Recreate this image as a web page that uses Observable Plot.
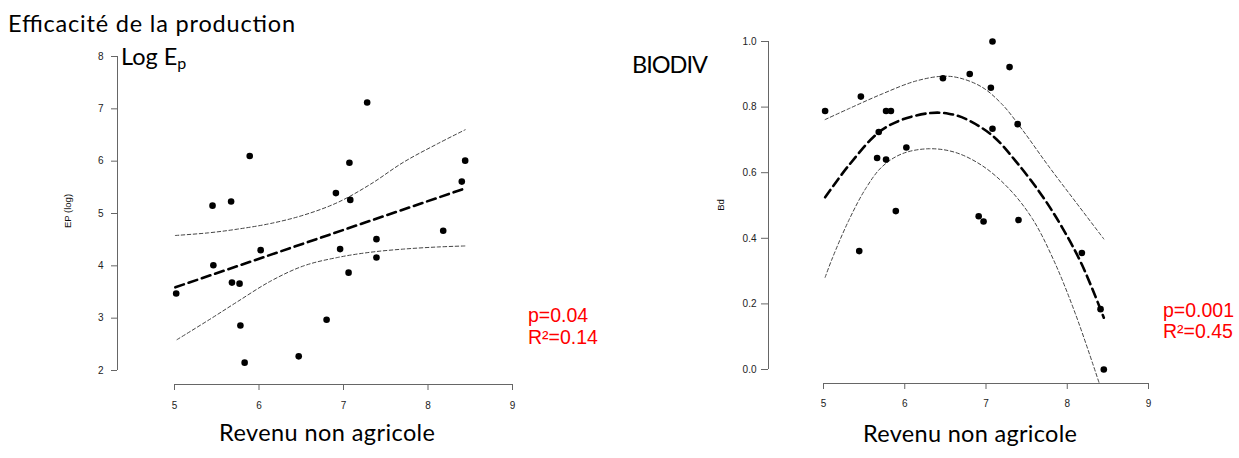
<!DOCTYPE html>
<html>
<head>
<meta charset="utf-8">
<script src="https://cdn.jsdelivr.net/npm/d3@7"></script>
<script src="https://cdn.jsdelivr.net/npm/@observablehq/plot@0.6"></script>
<style>
  body { margin: 0; background: #fff; }
  #wrap { position: relative; width: 1239px; height: 458px; overflow: hidden; background: #fff; }
  #wrap svg { position: absolute; left: 0; top: 0; }
</style>
</head>
<body>
<div id="wrap"></div>
<script>
// ---------- Left panel: Efficacité de la production (Log Ep) ----------
const epRevenu = [5.02, 5.45, 5.46, 5.67, 5.68, 5.77, 5.78, 5.83, 5.89, 6.02, 6.47, 6.80, 6.91, 6.96, 7.06, 7.07, 7.08, 7.28, 7.39, 7.39, 8.18, 8.40, 8.44];
const epLog    = [3.47, 5.15, 4.01, 5.23, 3.68, 3.66, 2.86, 2.15, 6.10, 4.30, 2.27, 2.97, 5.39, 4.32, 3.87, 5.97, 5.26, 7.12, 4.51, 4.16, 4.67, 5.61, 6.01];
const epFitX   = [5.01, 8.44];
const epFitY   = [3.59, 5.48];
const epUpX    = [5.01, 5.40, 5.74, 6.14, 6.53, 6.93, 7.32, 7.71, 8.11, 8.44];
const epUpY    = [4.58, 4.63, 4.70, 4.81, 4.97, 5.21, 5.56, 5.98, 6.33, 6.60];
const epLoX    = [5.03, 5.43, 5.74, 6.14, 6.53, 6.93, 7.32, 7.71, 8.11, 8.44];
const epLoY    = [2.59, 2.99, 3.31, 3.71, 4.00, 4.16, 4.26, 4.32, 4.36, 4.38];
const epXTicks = [5, 6, 7, 8, 9];
const epYTicks = [2, 3, 4, 5, 6, 7, 8];

// ---------- Right panel: BIODIV (Bd) ----------
const bdRevenu = [5.02, 5.46, 5.44, 5.68, 5.66, 5.77, 5.77, 5.83, 5.89, 6.02, 6.47, 6.80, 6.91, 6.97, 7.06, 7.08, 7.08, 7.29, 7.39, 7.40, 8.18, 8.41, 8.45];
const bdValue  = [0.788, 0.832, 0.361, 0.724, 0.645, 0.640, 0.788, 0.788, 0.483, 0.677, 0.888, 0.901, 0.467, 0.451, 0.859, 0.734, 1.000, 0.922, 0.748, 0.456, 0.355, 0.184, 0.000];
const bdFitX   = [5.02, 5.31, 5.68, 5.97, 6.32, 6.54, 6.75, 7.08, 7.36, 7.69, 7.94, 8.18, 8.45];
const bdFitY   = [0.525, 0.622, 0.723, 0.762, 0.782, 0.780, 0.764, 0.713, 0.637, 0.530, 0.432, 0.320, 0.158];
const bdUpX    = [5.02, 5.31, 5.72, 6.13, 6.46, 6.67, 6.95, 7.20, 7.45, 7.77, 8.10, 8.45];
const bdUpY    = [0.762, 0.795, 0.840, 0.879, 0.894, 0.889, 0.861, 0.808, 0.730, 0.620, 0.512, 0.398];
const bdLoX    = [5.02, 5.11, 5.31, 5.52, 5.72, 5.97, 6.30, 6.62, 6.95, 7.28, 7.57, 7.83, 8.10, 8.39];
const bdLoY    = [0.281, 0.340, 0.454, 0.552, 0.618, 0.658, 0.673, 0.662, 0.622, 0.552, 0.460, 0.335, 0.170, -0.039];
const bdXTicks = [5, 6, 7, 8, 9];
const bdYTicks = [0, 0.2, 0.4, 0.6, 0.8, 1.0];

const pts = (xs, ys) => xs.map((x, i) => ({x, y: ys[i]}));

const W = 1239, H = 458;
const axisStyle = {fontFamily: "'Liberation Sans', Arial, sans-serif", fontSize: "10px", color: "#222", background: "transparent", overflow: "visible"};
const thin = {x: "x", y: "y", stroke: "#444", strokeWidth: 1, strokeDasharray: "3.5,2.5", curve: "catmull-rom"};
const thick = {x: "x", y: "y", stroke: "#000", strokeWidth: 2.6, strokeDasharray: "9,5", curve: "catmull-rom"};

const left = Plot.plot({
  width: W, height: H,
  marginLeft: 117, marginBottom: H - 384, marginTop: 0, marginRight: 0,
  x: {domain: [5, 9], range: [174, 512]},
  y: {domain: [2, 8], range: [370, 56]},
  style: axisStyle,
  marks: [
    Plot.ruleY([epYTicks[0]], {x1: epXTicks[0], x2: epXTicks[epXTicks.length - 1], dy: 14, stroke: "#666"}),
    Plot.ruleX([epXTicks[0]], {y1: epYTicks[0], y2: epYTicks[epYTicks.length - 1], dx: -57, stroke: "#666"}),
    Plot.axisX(epXTicks, {tickSize: 6, tickPadding: 11, stroke: "#666", fill: "#222", label: null, tickFormat: "d"}),
    Plot.axisY(epYTicks, {tickSize: 6, tickPadding: 8, stroke: "#666", fill: "#222", label: null, tickFormat: "d"}),
    Plot.line(pts(epUpX, epUpY), thin),
    Plot.line(pts(epLoX, epLoY), thin),
    Plot.line(pts(epFitX, epFitY), {...thick, curve: "linear"}),
    Plot.dot(pts(epRevenu, epLog), {x: "x", y: "y", r: 3.3, fill: "#000", stroke: "none"})
  ]
});

const right = Plot.plot({
  width: W, height: H,
  marginLeft: 768, marginBottom: H - 383, marginTop: 0, marginRight: 0,
  x: {domain: [5, 9], range: [823, 1148]},
  y: {domain: [0, 1], range: [369, 41]},
  style: axisStyle,
  marks: [
    Plot.ruleY([bdYTicks[0]], {x1: bdXTicks[0], x2: bdXTicks[bdXTicks.length - 1], dy: 14, stroke: "#666"}),
    Plot.ruleX([bdXTicks[0]], {y1: bdYTicks[0], y2: bdYTicks[bdYTicks.length - 1], dx: -55, stroke: "#666"}),
    Plot.axisX(bdXTicks, {tickSize: 6, tickPadding: 10, stroke: "#666", fill: "#222", label: null, tickFormat: "d"}),
    Plot.axisY(bdYTicks, {tickSize: 7, tickPadding: 5, stroke: "#666", fill: "#222", label: null, tickFormat: ".1f"}),
    Plot.line(pts(bdUpX, bdUpY), thin),
    Plot.line(pts(bdLoX, bdLoY), thin),
    Plot.line(pts(bdFitX, bdFitY), thick),
    Plot.dot(pts(bdRevenu, bdValue), {x: "x", y: "y", r: 3.3, fill: "#000", stroke: "none"})
  ]
});

const wrap = document.getElementById("wrap");
wrap.appendChild(left);
wrap.appendChild(right);

// ---------- Text overlay (titles, axis names, statistics) ----------
const ov = d3.select(wrap).append("svg")
  .attr("width", W).attr("height", H)
  .style("pointer-events", "none");

const big = "Lato, 'Open Sans', sans-serif";
const sans = "'Liberation Sans', Arial, sans-serif";

function txt(x, y, s, opts = {}) {
  const t = ov.append("text").attr("x", x).attr("y", y).text(s)
    .attr("font-family", opts.family || big)
    .attr("font-size", opts.size || 23.5)
    .attr("fill", opts.fill || "#000");
  if (opts.len) t.attr("textLength", opts.len);
  if (opts.anchor) t.attr("text-anchor", opts.anchor);
  if (opts.rotate) t.attr("transform", `rotate(-90 ${x} ${y})`);
  return t;
}

txt(8, 32, "Efficacité de la production", {len: 287});
const logEp = ov.append("text").attr("x", 121).attr("y", 65)
  .attr("font-family", big).attr("font-size", 23.5).attr("fill", "#000");
logEp.append("tspan").text("Log E");
logEp.append("tspan").attr("font-size", 16).attr("dy", 4).text("p");

txt(632, 73, "BIODIV", {len: 76});
txt(219, 441, "Revenu non agricole", {len: 216});
txt(863, 442, "Revenu non agricole", {len: 214});

txt(71, 211, "EP (log)", {family: sans, size: 9.5, fill: "#111", anchor: "middle", rotate: true});
txt(724, 205, "Bd", {family: sans, size: 9.5, fill: "#111", anchor: "middle", rotate: true});

txt(528, 322, "p=0.04", {family: sans, size: 19.5, fill: "#ff0000"});
txt(528, 344, "R²=0.14", {family: sans, size: 19.5, fill: "#ff0000"});
txt(1163, 317, "p=0.001", {family: sans, size: 19.5, fill: "#ff0000"});
txt(1163, 338, "R²=0.45", {family: sans, size: 19.5, fill: "#ff0000"});
</script>
</body>
</html>
